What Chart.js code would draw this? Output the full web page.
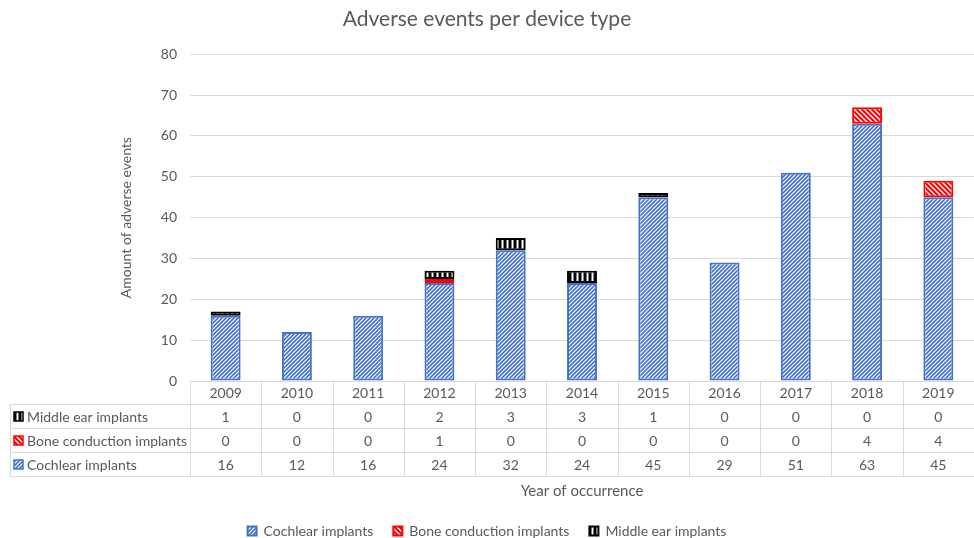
<!DOCTYPE html>
<html>
<head>
<meta charset="utf-8">
<script src="https://cdn.jsdelivr.net/npm/chart.js@4.4.1/dist/chart.umd.min.js"></script>
<style>
  html, body { margin: 0; padding: 0; background: #fff; }
  #wrap { width: 974px; height: 538px; }
</style>
</head>
<body>
<div id="wrap"><canvas id="chart" width="974" height="538"></canvas></div>
<script>
const years = ["2009", "2010", "2011", "2012", "2013", "2014", "2015", "2016", "2017", "2018", "2019"];
const cochlear = [16, 12, 16, 24, 32, 24, 45, 29, 51, 63, 45];
const boneConduction = [0, 0, 0, 1, 0, 0, 0, 0, 0, 4, 4];
const middleEar = [1, 0, 0, 2, 3, 3, 1, 0, 0, 0, 0];
const yTicks = [0, 10, 20, 30, 40, 50, 60, 70, 80];

const FONT = "Lato";
const TEXT = "#595959";
const GRID = "#d9d9d9";

// hatch patterns like the Excel fills
function makePattern(bg, fg, size, lw, kind) {
  const c = document.createElement("canvas");
  c.width = size; c.height = size;
  const g = c.getContext("2d");
  g.fillStyle = bg;
  g.fillRect(0, 0, size, size);
  g.strokeStyle = fg;
  g.lineWidth = lw;
  g.beginPath();
  if (kind === "up") {
    g.moveTo(-1, size + 1); g.lineTo(size + 1, -1);
    g.moveTo(-1, 1); g.lineTo(1, -1);
    g.moveTo(size - 1, size + 1); g.lineTo(size + 1, size - 1);
  } else if (kind === "down") {
    g.moveTo(-1, -1); g.lineTo(size + 1, size + 1);
    g.moveTo(size - 1, -1); g.lineTo(size + 1, 1);
    g.moveTo(-1, size - 1); g.lineTo(1, size + 1);
  } else {
    g.moveTo(size / 2, 0); g.lineTo(size / 2, size);
  }
  g.stroke();
  return g.createPattern(c, "repeat");
}

const cochlearFill = makePattern("#ffffff", "#4472C4", 4, 1.6, "up");
const boneFill = makePattern("#FF0000", "#ffffff", 5, 1.4, "down");
const middleFill = makePattern("#000000", "#ffffff", 5, 2, "vert");

const series = [
  { label: "Cochlear implants", data: cochlear, fill: cochlearFill, border: "#4472C4" },
  { label: "Bone conduction implants", data: boneConduction, fill: boneFill, border: "#FF0000" },
  { label: "Middle ear implants", data: middleEar, fill: middleFill, border: "#000000" }
];

// data table under the plot
const dataTable = {
  id: "dataTable",
  afterDraw(chart) {
    const ctx = chart.ctx;
    const x = chart.scales.x;
    const n = years.length;
    const colW = x.width / n;
    const top = chart.chartArea.bottom;
    const rowsY = [top, top + 23, top + 47, top + 71, top + 95];
    const left = 10;

    ctx.save();
    ctx.strokeStyle = GRID;
    ctx.lineWidth = 1;
    ctx.beginPath();
    ctx.moveTo(x.left, rowsY[0] + 0.5); ctx.lineTo(x.right, rowsY[0] + 0.5);
    for (let r = 1; r < rowsY.length; r++) {
      ctx.moveTo(left, rowsY[r] + 0.5); ctx.lineTo(x.right, rowsY[r] + 0.5);
    }
    ctx.moveTo(left + 0.5, rowsY[1]); ctx.lineTo(left + 0.5, rowsY[4]);
    for (let i = 0; i <= n; i++) {
      const px = Math.round(x.left + i * colW) + 0.5;
      ctx.moveTo(px, rowsY[0]); ctx.lineTo(px, rowsY[4]);
    }
    ctx.stroke();

    ctx.font = "14px " + FONT;
    ctx.fillStyle = TEXT;
    ctx.textAlign = "center";
    ctx.textBaseline = "middle";
    years.forEach((yr, i) => {
      ctx.fillText(yr, x.getPixelForValue(i), (rowsY[0] + rowsY[1]) / 2 + 1);
    });

    const rows = [series[2], series[1], series[0]];
    rows.forEach((s, r) => {
      const cy = (rowsY[r + 1] + rowsY[r + 2]) / 2 + 1;
      ctx.fillStyle = s.fill;
      ctx.fillRect(14, cy - 5, 9, 9);
      ctx.strokeStyle = s.border;
      ctx.lineWidth = 1.5;
      ctx.strokeRect(14, cy - 5, 9, 9);
      ctx.fillStyle = TEXT;
      ctx.textAlign = "left";
      ctx.fillText(s.label, 27, cy);
      ctx.textAlign = "center";
      s.data.forEach((v, i) => {
        ctx.fillText(String(v), x.getPixelForValue(i), cy);
      });
    });
    ctx.restore();
  }
};

const ctx = document.getElementById("chart").getContext("2d");
const chart = new Chart(ctx, {
  type: "bar",
  data: {
    labels: years,
    datasets: series.map((s) => ({
      label: s.label,
      data: s.data.map((v) => (v === 0 ? null : v)),
      backgroundColor: s.fill,
      borderColor: s.border,
      borderWidth: 2,
      borderSkipped: false,
      barPercentage: 0.42,
      categoryPercentage: 1
    }))
  },
  options: {
    responsive: false,
    animation: false,
    layout: { padding: { left: 0, right: 0, top: 0, bottom: -10 } },
    plugins: {
      title: {
        display: true,
        text: "Adverse events per device type",
        color: TEXT,
        font: { family: FONT, size: 21, weight: "normal" },
        padding: { top: 7, bottom: 22 }
      },
      legend: {
        position: "bottom",
        labels: {
          color: TEXT,
          font: { family: FONT, size: 14 },
          boxWidth: 9,
          boxHeight: 9,
          padding: 20
        }
      },
      tooltip: { enabled: false }
    },
    scales: {
      x: {
        stacked: true,
        grid: { display: false },
        border: { display: false },
        ticks: { display: false },
        title: {
          display: true,
          text: "Year of occurrence",
          color: TEXT,
          font: { family: FONT, size: 15 },
          padding: { top: 0, bottom: 4 }
        },
        afterFit(scale) { scale.height = 123; }
      },
      y: {
        stacked: true,
        min: 0,
        max: 80,
        afterBuildTicks(scale) { scale.ticks = yTicks.map((v) => ({ value: v })); },
        grid: { color: GRID, drawTicks: false },
        border: { display: false },
        ticks: {
          color: TEXT,
          font: { family: FONT, size: 14 },
          padding: 13
        },
        title: {
          display: true,
          text: "Amount of adverse events",
          color: TEXT,
          font: { family: FONT, size: 14 },
          padding: { top: 118, bottom: 0 }
        },
        afterFit(scale) { scale.width = 190; }
      }
    }
  },
  plugins: [dataTable]
});
</script>
</body>
</html>
